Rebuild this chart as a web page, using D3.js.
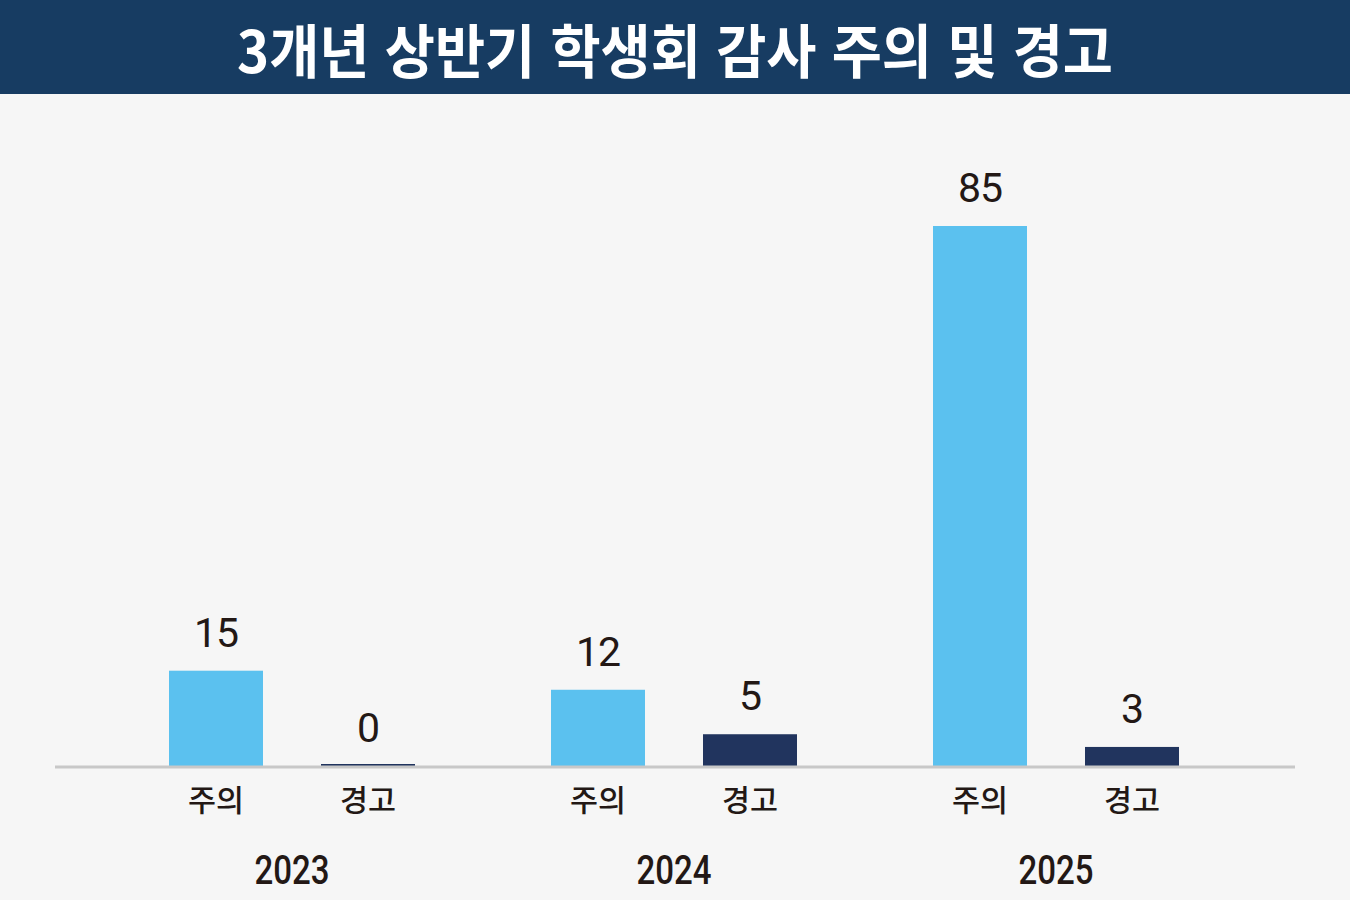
<!DOCTYPE html>
<html lang="ko">

<head>
  <meta charset="utf-8">
  <title>3개년 상반기 학생회 감사 주의 및 경고</title>
  <script type="text/javascript" src="https://cdn.jsdelivr.net/npm/d3@7"></script>
  <style type="text/css">
    body { margin: 0; background: #f6f6f6; }
    text { font-family: "Noto Sans CJK KR", "Noto Sans", sans-serif; }
    text.num { font-family: Roboto, "Noto Sans", sans-serif; }
  </style>
</head>

<body>
  <script type="text/javascript">

    // Size
    const w = 1350;
    const h = 900;

    // Data
    const years = ["2023", "2024", "2025"];
    const series = ["주의", "경고"];
    const caution = [15, 12, 85];
    const warning = [0, 5, 3];
    const title = "3개년 상반기 학생회 감사 주의 및 경고";

    const colors = { "주의": "#5bc1ef", "경고": "#21345e" };

    const rows = [];
    years.forEach(function (y, i) {
      rows.push({ year: y, key: "주의", value: caution[i] });
      rows.push({ year: y, key: "경고", value: warning[i] });
    });

    const svg = d3.select("body")
      .append("svg")
      .attr("width", w)
      .attr("height", h);

    svg.append("rect")
      .attr("width", w)
      .attr("height", h)
      .attr("fill", "#f6f6f6");

    // Title bar
    svg.append("rect")
      .attr("width", w)
      .attr("height", 94)
      .attr("fill", "#173c62");

    svg.append("text")
      .attr("x", w / 2)
      .attr("y", 73)
      .attr("text-anchor", "middle")
      .attr("fill", "#ffffff")
      .attr("font-size", 58)
      .attr("font-weight", 700)
      .attr("textLength", 876)
      .attr("lengthAdjust", "spacingAndGlyphs")
      .text(title);

    // Scales
    const x0 = d3.scaleBand()
      .domain(years)
      .range([101, 1247]);

    const x1 = d3.scalePoint()
      .domain(series)
      .range([115, 267]);

    const barW = 94;

    const y = d3.scaleLinear()
      .domain([0, 85])
      .range([766, 226]);

    // Bars
    svg.selectAll("rect.bar")
      .data(rows)
      .enter()
      .append("rect")
      .attr("class", "bar")
      .attr("x", function (d) { return x0(d.year) + x1(d.key) - barW / 2; })
      .attr("y", function (d) { return d.value === 0 ? y(0) - 2 : y(d.value); })
      .attr("width", barW)
      .attr("height", function (d) { return d.value === 0 ? 2 : y(0) - y(d.value); })
      .attr("fill", function (d) { return colors[d.key]; });

    // Baseline
    svg.append("line")
      .attr("x1", 55)
      .attr("x2", 1295)
      .attr("y1", y(0) + 1)
      .attr("y2", y(0) + 1)
      .attr("stroke", "#c8c8c8")
      .attr("stroke-width", 3);

    // Value labels
    svg.selectAll("text.val")
      .data(rows)
      .enter()
      .append("text")
      .attr("class", "val num")
      .attr("x", function (d) { return x0(d.year) + x1(d.key); })
      .attr("y", function (d) { return y(d.value) - 24; })
      .attr("text-anchor", "middle")
      .attr("fill", "#231815")
      .attr("font-size", 41)
      .attr("font-weight", 400)
      .attr("letter-spacing", -1)
      .text(function (d) { return d.value; });

    // Category labels
    svg.selectAll("text.cat")
      .data(rows)
      .enter()
      .append("text")
      .attr("class", "cat")
      .attr("x", function (d) { return x0(d.year) + x1(d.key); })
      .attr("y", 811)
      .attr("text-anchor", "middle")
      .attr("fill", "#231815")
      .attr("font-size", 30)
      .attr("font-weight", 500)
      .attr("textLength", 56)
      .attr("lengthAdjust", "spacingAndGlyphs")
      .text(function (d) { return d.key; });

    // Year labels
    svg.selectAll("text.year")
      .data(years)
      .enter()
      .append("text")
      .attr("class", "year num")
      .attr("x", function (d) { return x0(d) + x0.bandwidth() / 2; })
      .attr("y", 884)
      .attr("text-anchor", "middle")
      .attr("fill", "#231815")
      .attr("font-size", 40)
      .attr("font-weight", 500)
      .attr("textLength", 75)
      .attr("lengthAdjust", "spacingAndGlyphs")
      .text(function (d) { return d; });

  </script>
</body>

</html>
